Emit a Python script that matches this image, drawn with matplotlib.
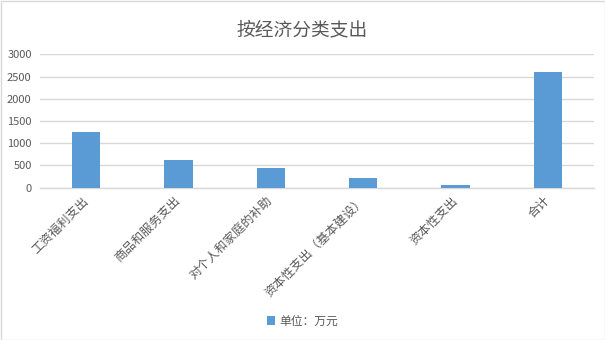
import matplotlib
matplotlib.use("Agg")
import matplotlib.pyplot as plt
from matplotlib.patches import Rectangle

plt.rcParams['font.family'] = ['Noto Sans CJK SC', 'DejaVu Sans']

categories = ["工资福利支出", "商品和服务支出", "对个人和家庭的补助", "资本性支出（基本建设）", "资本性支出", "合计"]
values = [1260, 625, 433, 208, 67, 2603]
yticks = [0, 500, 1000, 1500, 2000, 2500, 3000]
title = "按经济分类支出"
legend_label = "单位：万元"

fig = plt.figure(figsize=(6.05, 3.40), dpi=100)
fig.patch.set_facecolor("white")
ax = fig.add_axes([40/605, 152.3/340, 554/605, 133.4/340])

x = list(range(len(categories)))
ax.bar(x, values, width=0.31, color="#5b9bd5", label=legend_label, zorder=3)
ax.set_xlim(-0.5, len(categories) - 0.5)
ax.set_ylim(0, 3000)
ax.set_yticks(yticks)
ax.set_yticklabels([str(v) for v in yticks], fontsize=8, color="#595959")
ax.set_xticks(x)
ax.set_xticklabels(categories, fontsize=8.9, color="#595959", rotation=45,
                   ha="right", va="center", rotation_mode="anchor")
ax.tick_params(axis="both", length=0, pad=6)
ax.tick_params(axis="x", pad=8)
ax.grid(axis="y", color="#d9d9d9", linewidth=1, zorder=0)
for s in ["top", "right", "left"]:
    ax.spines[s].set_visible(False)
ax.spines["bottom"].set_color("#d9d9d9")
ax.spines["bottom"].set_linewidth(1)

fig.text(0.5, 1 - 30/340, title, ha="center", va="center", fontsize=13.5, color="#595959")

leg = fig.legend(loc="center", bbox_to_anchor=(0.5, 1 - 321/340), frameon=False,
                 fontsize=8.5, handlelength=0.7, handleheight=0.7, handletextpad=0.4)
for t in leg.get_texts():
    t.set_color("#595959")

fig.patches.append(Rectangle((0.5/605, 0.5/340), 1 - 1/605, 1 - 1/340, transform=fig.transFigure,
                             fill=False, edgecolor="#d9d9d9", linewidth=1))

fig.savefig("out.png", dpi=100)
